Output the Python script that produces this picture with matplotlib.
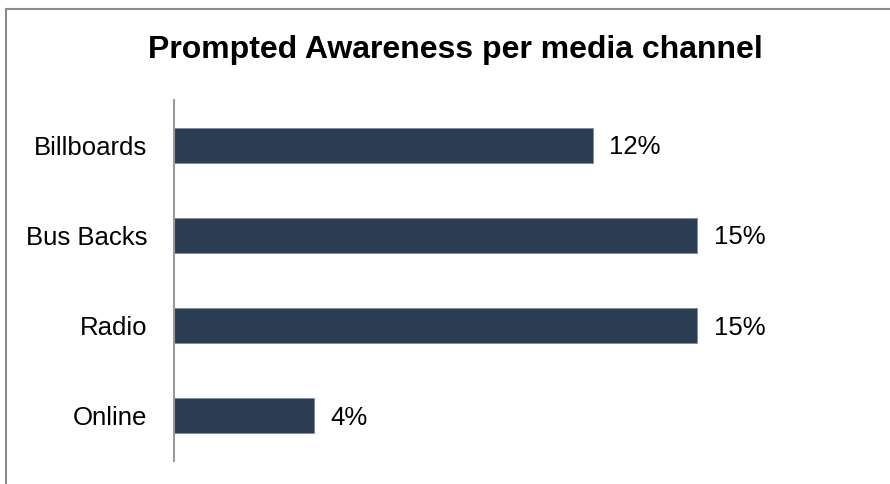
import matplotlib
matplotlib.use('Agg')
import matplotlib.pyplot as plt
from matplotlib.lines import Line2D

# Data
channels = ['Billboards', 'Bus Backs', 'Radio', 'Online']
awareness = [12, 15, 15, 4]

plt.rcParams['font.family'] = ['Liberation Sans', 'DejaVu Sans']

W, H = 890, 484
fig = plt.figure(figsize=(W / 100, H / 100), dpi=100)
ax = fig.add_axes([174 / W, 23 / H, (802 - 174) / W, (461 - 100) / H])

pos = list(range(len(channels)))
ax.barh(pos, awareness, height=0.39, color='#2a3d52', edgecolor='#7f8c9a', linewidth=0.6)
ax.set_ylim(len(channels) - 0.5, -0.5)
ax.set_xlim(0, 18)

for p, v in zip(pos, awareness):
    ax.annotate(f'{v}%', xy=(v, p), xytext=(12, -1.5), textcoords='offset points',
                va='center', ha='left', fontsize=18.5, color='black')

ax.set_yticks(pos)
ax.set_yticklabels(channels, fontsize=18.5)
ax.tick_params(axis='y', length=0, pad=19)
ax.set_xticks([])
for s in ['top', 'right', 'bottom']:
    ax.spines[s].set_visible(False)
ax.spines['left'].set_color('#9a9a9a')
ax.spines['left'].set_linewidth(1.5)

fig.text(455 / W, 1 - 50 / H, 'Prompted Awareness per media channel',
         ha='center', va='center', fontsize=23, fontweight='bold')

# frame lines (top and left only)
fig.add_artist(Line2D([6 / W, 1], [1 - 9 / H, 1 - 9 / H], color='#8c8c8c', linewidth=1.5))
fig.add_artist(Line2D([6 / W, 6 / W], [0, 1 - 9 / H], color='#8c8c8c', linewidth=1.5))

fig.savefig('out.png', dpi=100)
